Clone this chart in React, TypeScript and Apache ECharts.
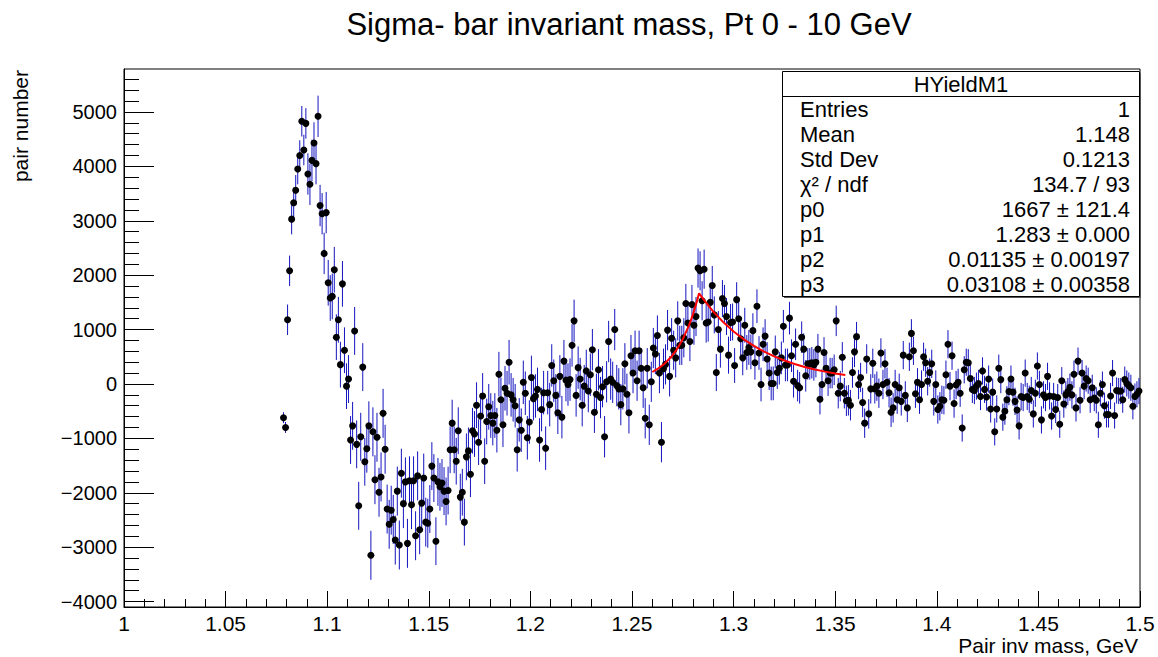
import React, { useEffect, useRef } from "react";
import * as echarts from "echarts";

const FONT = '"Liberation Sans", Arial, Helvetica, sans-serif';

// Histogram: bins of 0.001 GeV, first filled bin starts at 1.078 GeV
const binLow = 1.078;
const binWidth = 0.001;

const countsPeak = [
  -620, -800, 1180, 2080, 3030, 3330, 3560, 3950, 4200, 4830,
  4300, 4790, 3860, 3670, 4110, 4430, 4050, 4920, 3280, 3130,
  2400, 3150, 1860, 1580, 1610, 2100, 860, 1180, 355, 1840,
  620, -40, 90, -1030, -770, 975, -1110, -2240, -970, 310,
  -1430, -1190, -770, -3150, -880, -1760, -980, -1990, -1710, -540,
  -1200, -2300, -2580,
];
const countsDip = [
  -2320, -2490, -2870, -1970, -2960, -1640, -2200, -1800, -2930, -1780,
  -2220, -1780, -2790, -1690, -2680, -2190, -1730, -2540, -2560, -2300,
  -1510, -1730, -2890, -1800, -1890, -1820, -1970, -2160, -1960, -1210,
  -720, -1210, -1420, -860, -2080, -1990, -2540, -1340, -1230, -1660,
  -860, -920, -390, -1070, -590, -220, -1420, -690, -420, -580,
  -720, -580, -850, 180, -290, -750, -80, -170, 400,
];
const countsRise = [
  -200, -290, -400, -1210, -660, -850, 30, -170, -990, -700,
  120, -270, -220, -100, -1030, -470, -160, -1180, -160, -380,
  340, 60, -210, -530, 140, -610, 420, 70, -10, 80,
  710, 1160, -210, 300, 90, -390, -40, 240, -130, 170,
  630, -520, -190, 260, -250, -50, -970, 40, 780, 90,
  30, 1000, -30, -90, -380, -90, 370, -190, -530, 520,
  200, 610, 60, 610, 290, -70, -630, 290, -750, 40,
];
const countsSignal = [
  660, 550, 890, 200, -1070, 280, 360, 990, 140, 840,
  620, 480, 1160, 710, 710, 850, 1480, 1120, 780, 1460,
  1080, 1240, 2130, 2080, 1530, 2110, 1120, 1140, 1500, 1810,
  1270, 210, 1000, 640, 1570, 1480, 1240, 530, 1130, 1140,
  340, 1550, 1200, 830, 480, 1080, 580, 670, 590, 980,
  390, 1430, 570, -10, 730, 880, 460, 200, 10, 10,
  590, 210, 290, 480, 1060, 350, 350, 1210, 520,
];
const countsTail = [
  50, 730, -30, -70, 860, 640, 150, 370, 370, 390,
  350, 400, 640, -280, -10, 580, 290, 60, 200, 200,
  260, 1160, -170, -40, 490, -170, -310, -300, -390, 210,
  590, 870, -10, 120, -340, -720, 460, -550, -90, 380,
  -90, -40, -170, 570, -10, 370, 30, -160, -520, -440,
  -10, -290, -70, -320, 530, -210, -440, 500, 930, 610,
  -180, 30, -290, -10, 500, 390, 50, 210, 370, -320,
  -10, -470, -410, -290, -300, 170, 730, -40,
];
const countsEnd = [
  520, -360, -20, 30, -170, -810, 260, 400, 390, 100,
  -100, -120, -40, 10, -230, 240, -100, -240, 90, -460,
  -150, -880, -460, 290, 80, -610, -500, -290, -140, 90,
  -150, -320, -480, -770, -230, -250, 200, -230, -280, -120,
  -550, -170, 330, -10, -660, -200, -250, 140, -220, -590,
  -230, -470, -250, -740, 60, -370, -200, -140, -60, -200,
  180, -440, 420, -300, 200, -40, 100, 60, -290, -70,
  -260, -300, -750, -170, -10, -400, -560, -560, -220, 200,
  -580, -120, -130, -130, -290, 80, 10, -30, -70, -410,
  -230, -190, -130,
];

// Error half-lengths read per 0.01 GeV slice, starting at 1.07
const errorSliceStart = 1.07;
const errorBySlice = [
  100, 280, 380, 420, 440, 450, 450, 450, 440, 430,
  420, 410, 400, 400, 390, 390, 380, 380, 370, 370,
  360, 360, 340, 320, 310, 300, 290, 280, 280, 270,
  270, 260, 260, 260, 250, 250, 250, 250, 250, 250,
  240, 240, 240,
];

// Fit curve (asymmetric exponential), sampled off the red line
const fitX = [
  1.26, 1.263, 1.266, 1.269, 1.272, 1.275, 1.278, 1.28, 1.282, 1.283,
  1.285, 1.29, 1.295, 1.3, 1.305, 1.31, 1.315, 1.32, 1.325, 1.33,
  1.335, 1.34, 1.345, 1.35, 1.355,
];
const fitY = [
  220, 286, 373, 486, 632, 824, 1073, 1280, 1527, 1667,
  1563, 1331, 1133, 965, 821, 699, 595, 507, 432, 367,
  313, 266, 227, 193, 164,
];

const xTickValues = [1, 1.05, 1.1, 1.15, 1.2, 1.25, 1.3, 1.35, 1.4, 1.45, 1.5];
const yTickValues = [-4000, -3000, -2000, -1000, 0, 1000, 2000, 3000, 4000, 5000];

const statsLabels = ["Entries", "Mean", "Std Dev", "\u03c7\u00b2 / ndf", "p0", "p1", "p2", "p3"];
const statsValues = [
  "1",
  "1.148",
  "0.1213",
  "134.7 / 93",
  "1667 \u00b1 121.4",
  "1.283 \u00b1 0.000",
  "0.01135 \u00b1 0.00197",
  "0.03108 \u00b1 0.00358",
];

const allCounts = [
  ...countsPeak,
  ...countsDip,
  ...countsRise,
  ...countsSignal,
  ...countsTail,
  ...countsEnd,
];

function buildOption() {
  const points: number[][] = [];
  const bars: number[][] = [];
  allCounts.forEach((v, i) => {
    const x = +(binLow + (i + 0.5) * binWidth).toFixed(4);
    const idx = Math.min(errorBySlice.length - 1, Math.floor((x - errorSliceStart) / 0.01 + 1e-9));
    points.push([x, v]);
    bars.push([x, v, errorBySlice[idx]]);
  });
  const fit = fitX.map((x, i) => [x, fitY[i]]);

  const xMinor: number[] = [];
  for (let i = 1; i < 50; i++) if (i % 5 !== 0) xMinor.push(+(1 + i * 0.01).toFixed(2));
  const yMinor: number[] = [];
  for (let v = -4000; v <= 5600; v += 200) if (v % 1000 !== 0) yMinor.push(v);

  const statsTop = 71.5;
  const rowH = 25;
  const SF = 22;
  const graphics: any[] = [
    {
      type: "text",
      x: 629,
      y: 24,
      z: 100,
      style: {
        text: "Sigma- bar invariant mass, Pt 0 - 10 GeV",
        fontSize: 31,
        fontFamily: FONT,
        fill: "#000",
        align: "center",
        verticalAlign: "middle",
      },
    },
    {
      type: "text",
      x: 20,
      y: 70,
      rotation: Math.PI / 2,
      z: 100,
      style: {
        text: "pair number",
        fontSize: 21,
        fontFamily: FONT,
        fill: "#000",
        align: "right",
        verticalAlign: "middle",
      },
    },
    {
      type: "text",
      x: 1138,
      y: 645,
      z: 100,
      style: {
        text: "Pair inv mass, GeV",
        fontSize: 21,
        fontFamily: FONT,
        fill: "#000",
        align: "right",
        verticalAlign: "middle",
      },
    },
    {
      type: "rect",
      z: 99,
      shape: { x: 784, y: statsTop + 1.5, width: 357, height: 225 },
      style: { fill: "#555" },
    },
    {
      type: "rect",
      z: 100,
      shape: { x: 782.5, y: statsTop, width: 357, height: 225 },
      style: { fill: "#fff", stroke: "#000", lineWidth: 1 },
    },
    {
      type: "line",
      z: 101,
      shape: { x1: 782.5, y1: 96.5, x2: 1139.5, y2: 96.5 },
      style: { stroke: "#000", lineWidth: 1 },
    },
    {
      type: "text",
      x: 961,
      y: 84,
      z: 101,
      style: {
        text: "HYieldM1",
        fontSize: SF,
        fontFamily: FONT,
        fill: "#000",
        align: "center",
        verticalAlign: "middle",
      },
    },
  ];
  statsLabels.forEach((lab, i) => {
    const y = 109 + i * rowH;
    graphics.push({
      type: "text",
      x: 800,
      y,
      z: 101,
      style: { text: lab, fontSize: SF, fontFamily: FONT, fill: "#000", align: "left", verticalAlign: "middle" },
    });
    graphics.push({
      type: "text",
      x: 1130,
      y,
      z: 101,
      style: { text: statsValues[i], fontSize: SF, fontFamily: FONT, fill: "#000", align: "right", verticalAlign: "middle" },
    });
  });

  const axisBase = {
    type: "value",
    splitLine: { show: false },
  };

  return {
    animation: false,
    backgroundColor: "#fff",
    textStyle: { fontFamily: FONT },
    grid: {
      left: 124,
      right: 18,
      top: 69,
      bottom: 50,
      show: true,
      borderColor: "#000",
      borderWidth: 1,
      backgroundColor: "rgba(0,0,0,0)",
    },
    xAxis: [
      {
        ...axisBase,
        min: 1,
        max: 1.5,
        position: "bottom",
        axisLine: { show: true, onZero: false, lineStyle: { color: "#000", width: 1 } },
        axisTick: { show: true, inside: true, length: 16, customValues: xTickValues, lineStyle: { color: "#000" } },
        axisLabel: {
          customValues: xTickValues,
          fontSize: 21,
          color: "#000",
          margin: 6,
          fontFamily: FONT,
          formatter: (v: number) => String(+(+v).toFixed(2)),
        },
      },
      {
        ...axisBase,
        min: 1,
        max: 1.5,
        position: "bottom",
        axisLine: { show: false, onZero: false },
        axisTick: { show: true, inside: true, length: 8, customValues: xMinor, lineStyle: { color: "#000" } },
        axisLabel: { show: false },
      },
    ],
    yAxis: [
      {
        ...axisBase,
        min: -4100,
        max: 5790,
        position: "left",
        axisLine: { show: true, onZero: false, lineStyle: { color: "#000", width: 1 } },
        axisTick: { show: true, inside: true, length: 30, customValues: yTickValues, lineStyle: { color: "#000" } },
        axisLabel: {
          customValues: yTickValues,
          fontSize: 20,
          color: "#000",
          margin: 7,
          fontFamily: FONT,
          formatter: (v: number) => (v < 0 ? "\u2212" + Math.abs(v) : String(v)),
        },
      },
      {
        ...axisBase,
        min: -4100,
        max: 5790,
        position: "left",
        offset: 0,
        axisLine: { show: false, onZero: false },
        axisTick: { show: true, inside: true, length: 15, customValues: yMinor, lineStyle: { color: "#000" } },
        axisLabel: { show: false },
      },
    ],
    series: [
      {
        type: "custom",
        name: "errors",
        xAxisIndex: 0,
        yAxisIndex: 0,
        data: bars,
        encode: { x: 0, y: 1 },
        z: 2,
        renderItem: (params: any, api: any) => {
          const x = api.value(0);
          const y = api.value(1);
          const e = api.value(2);
          const p1 = api.coord([x, y - e]);
          const p2 = api.coord([x, y + e]);
          return {
            type: "line",
            shape: { x1: p1[0], y1: p1[1], x2: p2[0], y2: p2[1] },
            style: { stroke: "#1414c0", lineWidth: 1 },
          };
        },
      },
      {
        type: "scatter",
        name: "HYieldM1",
        xAxisIndex: 0,
        yAxisIndex: 0,
        data: points,
        symbol: "circle",
        symbolSize: 7,
        itemStyle: { color: "#000", opacity: 1 },
        z: 3,
      },
      {
        type: "line",
        name: "fit",
        xAxisIndex: 0,
        yAxisIndex: 0,
        data: fit,
        showSymbol: false,
        symbol: "none",
        smooth: false,
        lineStyle: { color: "#ff0000", width: 2 },
        z: 4,
      },
    ],
    graphic: graphics,
  };
}

export default function App() {
  const ref = useRef<HTMLDivElement>(null);
  useEffect(() => {
    if (!ref.current) return;
    const chart = echarts.init(ref.current, null, { renderer: "svg" });
    chart.setOption(buildOption() as any);
    return () => chart.dispose();
  }, []);
  return (
    <div
      ref={ref}
      style={{ position: "absolute", left: 0, top: 0, width: 1158, height: 657, background: "#fff" }}
    />
  );
}
